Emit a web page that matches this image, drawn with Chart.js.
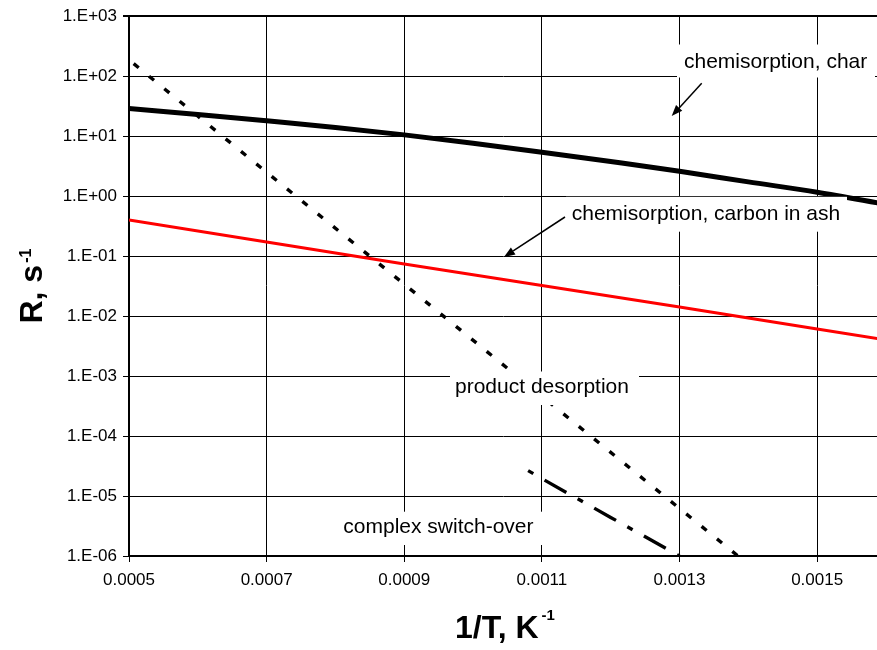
<!DOCTYPE html>
<html>
<head>
<meta charset="utf-8">
<script src="https://cdn.jsdelivr.net/npm/chart.js@4.4.1/dist/chart.umd.min.js"></script>
<style>
  html, body { margin: 0; padding: 0; background: #fff; }
  canvas { display: block; }
</style>
</head>
<body>
<canvas id="chart" width="877" height="650"></canvas>
<script>
// Reaction rate R (1/s) versus inverse temperature 1/T (1/K)

// chemisorption on char
const charX = [0.0005, 0.0006, 0.0007, 0.0008, 0.0009, 0.0010, 0.0011, 0.0012, 0.0013, 0.0014, 0.0015, 0.0016];
const charR = [29, 23, 18, 14, 10.5, 7.6, 5.4, 3.77, 2.6, 1.73, 1.16, 0.73];

// chemisorption on carbon in ash
const ashX = [0.0005, 0.0007, 0.0009, 0.0011, 0.0013, 0.0015, 0.0016];
const ashR = [0.40, 0.172, 0.074, 0.0324, 0.0142, 0.0061, 0.0040];

// product desorption
const desorbX = [0.0005, 0.0007, 0.0009, 0.0011, 0.0013, 0.001385];
const desorbR = [187, 2.5, 0.034, 4.6e-4, 6.2e-6, 1.0e-6];

// complex switch-over
const switchX = [0.00108, 0.0011, 0.0012, 0.0013];
const switchR = [2.65e-5, 1.95e-5, 4.4e-6, 1.0e-6];

// axis ticks
const xTicks = [0.0005, 0.0007, 0.0009, 0.0011, 0.0013, 0.0015];
const yTicks = [1e-6, 1e-5, 1e-4, 1e-3, 1e-2, 1e-1, 1e0, 1e1, 1e2, 1e3];

const FONT = "'Liberation Sans', Arial, Helvetica, sans-serif";

const pts = (xs, ys) => xs.map((x, i) => ({ x: x, y: ys[i] }));

// Excel-style "1.E+03" labels
function sciLabel(v) {
  const e = Math.round(Math.log10(v));
  const s = String(Math.abs(e)).padStart(2, '0');
  return '1.E' + (e < 0 ? '-' : '+') + s;
}

// text callouts with white backing boxes and arrows
const callouts = [
  { text: 'chemisorption, char', x: 684, y: 68, box: [677, 44.5, 875, 77.5] },
  { text: 'chemisorption, carbon in ash', x: 571.7, y: 220, box: [566, 196.8, 847, 231.7] },
  { text: 'product desorption', x: 455, y: 393.3, box: [450, 371.5, 639, 405] },
  { text: 'complex switch-over', x: 343.3, y: 533.3, box: [338, 511.7, 547, 545] }
];
const arrows = [
  { from: [701.7, 83.3], to: [671.7, 116] },
  { from: [565, 217], to: [504, 257] }
];

const calloutPlugin = {
  id: 'callouts',
  afterDatasetsDraw(chart) {
    const ctx = chart.ctx;
    ctx.save();
    callouts.forEach(c => {
      const [x0, y0, x1, y1] = c.box;
      ctx.fillStyle = '#fff';
      ctx.fillRect(x0, y0, x1 - x0, y1 - y0);
    });
    ctx.fillStyle = '#000';
    ctx.font = '21px ' + FONT;
    ctx.textBaseline = 'alphabetic';
    ctx.textAlign = 'left';
    callouts.forEach(c => ctx.fillText(c.text, c.x, c.y));
    ctx.strokeStyle = '#000';
    ctx.lineWidth = 1.5;
    arrows.forEach(a => {
      const [fx, fy] = a.from, [tx, ty] = a.to;
      const ang = Math.atan2(ty - fy, tx - fx);
      const L = 11, W = 4.2;
      const bx = tx - L * Math.cos(ang), by = ty - L * Math.sin(ang);
      ctx.beginPath();
      ctx.moveTo(fx, fy);
      ctx.lineTo(bx, by);
      ctx.stroke();
      ctx.beginPath();
      ctx.moveTo(tx, ty);
      ctx.lineTo(bx + W * Math.sin(ang), by - W * Math.cos(ang));
      ctx.lineTo(bx - W * Math.sin(ang), by + W * Math.cos(ang));
      ctx.closePath();
      ctx.fill();
    });
    ctx.restore();
  }
};

// axis titles with superscript exponents
const titlePlugin = {
  id: 'axisTitles',
  afterDraw(chart) {
    const ctx = chart.ctx;
    const area = chart.chartArea;
    ctx.save();
    ctx.fillStyle = '#000';
    ctx.textBaseline = 'alphabetic';
    ctx.textAlign = 'left';

    // x title
    ctx.font = 'bold 32px ' + FONT;
    const xMain = '1/T, K';
    const wx = ctx.measureText(xMain).width;
    ctx.font = 'bold 15px ' + FONT;
    const wxs = ctx.measureText('-1').width;
    const xStart = (area.left + area.right) / 2 - (wx + 3 + wxs) / 2 + 2;
    ctx.font = 'bold 32px ' + FONT;
    ctx.fillText(xMain, xStart, 638);
    ctx.font = 'bold 15px ' + FONT;
    ctx.fillText('-1', xStart + wx + 3, 620);

    // y title (rotated)
    ctx.font = 'bold 32px ' + FONT;
    const yMain = 'R, s';
    const wy = ctx.measureText(yMain).width;
    ctx.font = 'bold 16px ' + FONT;
    const wys = ctx.measureText('-1').width;
    const yCenter = (area.top + area.bottom) / 2;
    ctx.translate(42, yCenter + (wy + 2 + wys) / 2);
    ctx.rotate(-Math.PI / 2);
    ctx.font = 'bold 32px ' + FONT;
    ctx.fillText(yMain, 0, 0);
    ctx.font = 'bold 16px ' + FONT;
    ctx.fillText('-1', wy + 2, -11);
    ctx.restore();
  }
};

new Chart(document.getElementById('chart').getContext('2d'), {
  type: 'line',
  data: {
    datasets: [
      {
        label: 'chemisorption, char',
        data: pts(charX, charR),
        borderColor: '#000000',
        borderWidth: 5,
        cubicInterpolationMode: 'monotone',
        order: 3
      },
      {
        label: 'chemisorption, carbon in ash',
        data: pts(ashX, ashR),
        borderColor: '#ff0000',
        borderWidth: 3,
        order: 2
      },
      {
        label: 'product desorption',
        data: pts(desorbX, desorbR),
        borderColor: '#000000',
        borderWidth: 3.4,
        borderDash: [6.5, 13.3],
        borderDashOffset: 13.8,
        order: 0
      },
      {
        label: 'complex switch-over',
        data: pts(switchX, switchR),
        borderColor: '#000000',
        borderWidth: 3.4,
        borderDash: [6, 13, 25, 13],
        order: 1
      }
    ]
  },
  options: {
    responsive: false,
    animation: false,
    devicePixelRatio: 1,
    elements: {
      point: { radius: 0, hoverRadius: 0 },
      line: { borderCapStyle: 'butt', tension: 0, fill: false }
    },
    layout: { padding: { top: 12, left: 0, right: 0, bottom: 0 } },
    plugins: {
      legend: { display: false },
      tooltip: { enabled: false }
    },
    scales: {
      x: {
        type: 'linear',
        position: 'bottom',
        min: 0.0005,
        max: 0.001587,
        afterBuildTicks: s => { s.ticks = xTicks.map(v => ({ value: v })); },
        afterFit: s => { s.height = 94; },
        ticks: {
          callback: v => Number(v).toFixed(4),
          font: { family: FONT, size: 17 },
          color: '#000',
          padding: 8,
          maxRotation: 0,
          autoSkip: false
        },
        grid: { color: '#000', lineWidth: 1, tickLength: 6 },
        border: { color: '#000', width: 2 }
      },
      y: {
        type: 'logarithmic',
        min: 1e-6,
        max: 1e3,
        afterBuildTicks: s => { s.ticks = yTicks.map(v => ({ value: v })); },
        afterFit: s => { s.width = 129; },
        ticks: {
          callback: v => sciLabel(v),
          font: { family: FONT, size: 17 },
          color: '#000',
          padding: 6,
          autoSkip: false
        },
        grid: {
          color: '#000',
          lineWidth: c => (c.tick && c.tick.value === 1e3 ? 2 : 1),
          tickLength: 6
        },
        border: { color: '#000', width: 2 }
      }
    }
  },
  plugins: [calloutPlugin, titlePlugin]
});
</script>
</body>
</html>
